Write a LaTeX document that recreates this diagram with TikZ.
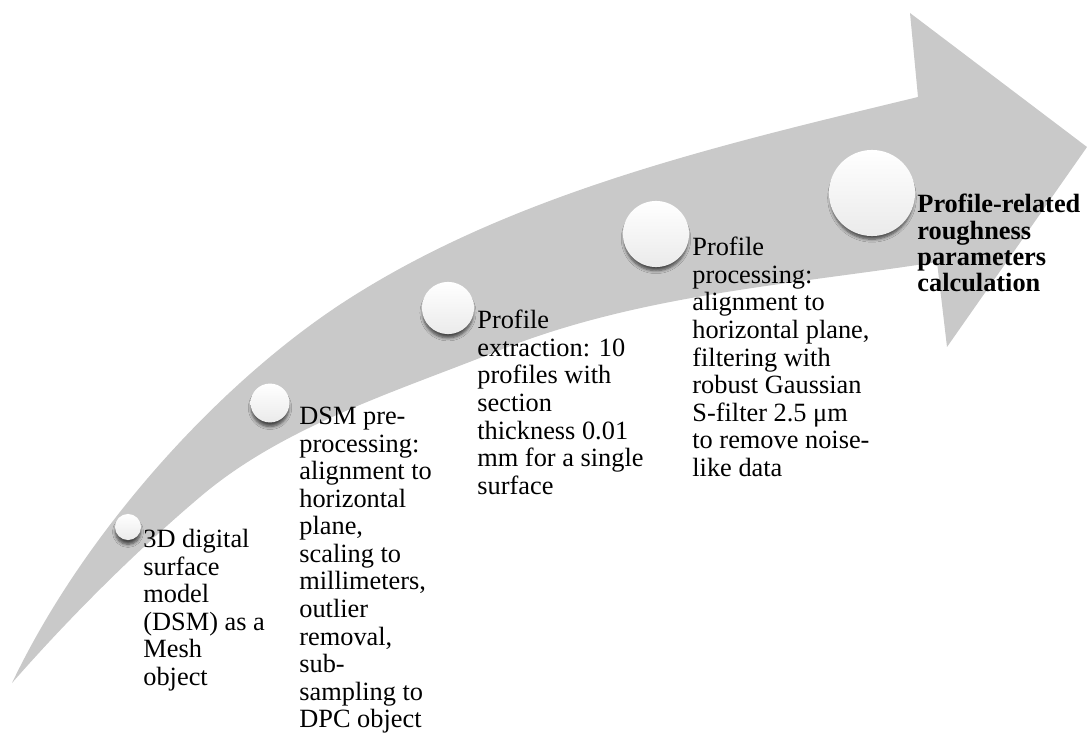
\documentclass[tikz,border=0pt]{standalone}
\usepackage{fontspec}
\setmainfont{Liberation Serif}
\usepackage{tikz}
\usetikzlibrary{shadows.blur}
\definecolor{arrowgray}{HTML}{C9C9C9}
\tikzset{
  stepdot/.style={circle,minimum size=#1,inner sep=0pt,top color=white,bottom color=black!8,
    blur shadow={shadow xshift=0pt,shadow yshift=-2.6pt,shadow scale=0.96,shadow opacity=65,shadow blur radius=1.6pt,shadow blur steps=6}},
  steptext/.style={anchor=north west,inner sep=0pt,align=left,font=\fontsize{13.5}{14.1}\selectfont},
}

\begin{document}
\begin{tikzpicture}[x=0.018cm,y=-0.018cm]
  \useasboundingbox (0,0) rectangle (1087,733);
  % curved gray arrow
  \fill[arrowgray] (12,683) .. controls (85,530) and (221,381) .. (347,300)
    .. controls (515,192) and (724,144) .. (918,97)
    -- (910,13) -- (1087,147) -- (947,347) -- (937,262)
    .. controls (789,285) and (640,294.5) .. (500,350)
    .. controls (398,391) and (284,425.5) .. (200,497)
    .. controls (135,552) and (68,619) .. (12,683) -- cycle;
  \node[stepdot=0.47cm] (c1) at (128,527) {};
  \node[stepdot=0.70cm] (c2) at (270,403) {};
  \node[stepdot=0.94cm] (c3) at (448,308) {};
  \node[stepdot=1.19cm] (c4) at (656,234) {};
  \node[stepdot=1.55cm] (c5) at (872,193) {};
  \node[steptext] (t1) at (143,529) {3D digital\\surface\\model\\(DSM) as a\\Mesh\\object};
  \node[steptext] (t2) at (299,407) {DSM pre-\\processing:\\alignment to\\horizontal\\plane,\\scaling to\\millimeters,\\outlier\\removal,\\sub-\\sampling to\\DPC object};
  \node[steptext] (t3) at (477,310) {Profile\\extraction: 10\\profiles with\\section\\thickness 0.01\\mm for a single\\surface};
  \node[steptext] (t4) at (692,237) {Profile\\processing:\\alignment to\\horizontal plane,\\filtering with\\robust Gaussian\\S-filter 2.5 μm\\to remove noise-\\like data};
  \node[steptext,font=\fontsize{13.5}{13.4}\selectfont\bfseries] (t5) at (917,194) {Profile-related\\roughness\\parameters\\calculation};
\end{tikzpicture}
\end{document}
